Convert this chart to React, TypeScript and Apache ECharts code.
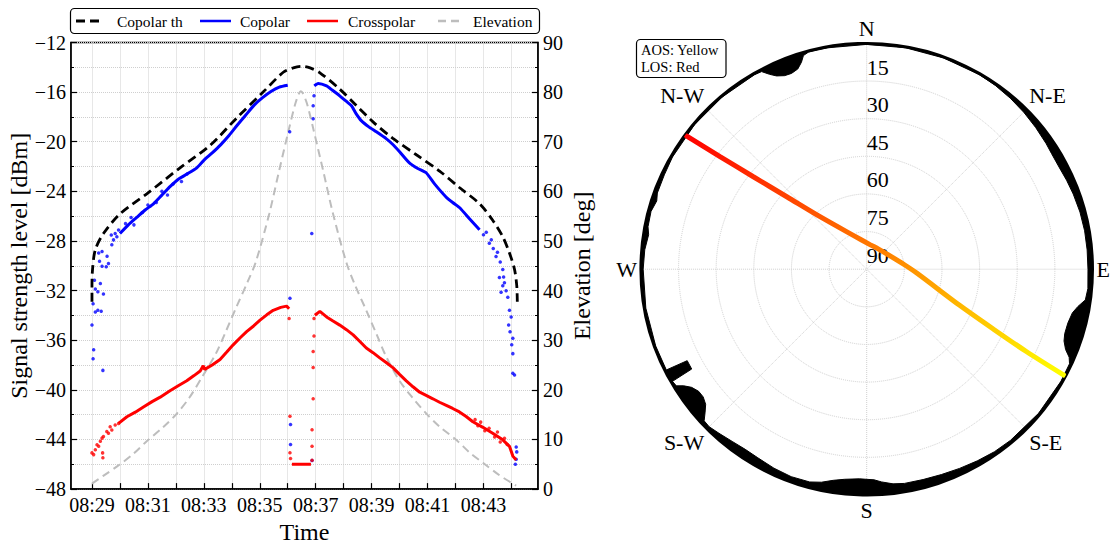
import { useEffect, useRef } from 'react';
import * as echarts from 'echarts';

const FONT = '"Liberation Serif", "DejaVu Serif", serif';

// ---- Left panel: signal levels versus time (minutes after 08:00) ----
const timeLabelMinutes = [29, 31, 33, 35, 37, 39, 41, 43];

const thTime = [29.0, 29.0, 29.02, 29.12, 29.41, 30.01, 30.96, 32.15, 33.22, 34.17, 35.12, 35.84, 36.2, 36.5, 36.8, 37.15, 37.86, 38.46, 39.05, 39.76, 40.6, 41.43, 42.14, 42.86, 43.33, 43.69, 43.93, 44.11, 44.19, 44.21];
const thLevel = [-32.9, -31.6, -30.3, -28.7, -27.4, -25.8, -24.2, -22.1, -20.3, -18.1, -16.0, -14.4, -14.05, -13.92, -14.05, -14.44, -15.76, -17.09, -18.4, -19.73, -21.05, -22.36, -23.69, -25.0, -26.33, -27.65, -28.97, -30.29, -31.6, -32.9];

const elTime = [29.0, 29.39, 29.98, 30.46, 30.93, 31.53, 32.0, 32.48, 32.96, 33.43, 33.79, 34.15, 34.56, 34.86, 35.34, 35.69, 36.05, 36.29, 36.47, 36.67, 36.91, 37.27, 37.62, 38.1, 38.4, 38.81, 39.17, 39.53, 40.0, 40.48, 40.96, 41.43, 42.03, 42.5, 42.98, 43.57, 44.17];
const elDeg = [1.1, 2.6, 4.9, 7.0, 9.5, 12.4, 15.0, 18.4, 22.8, 27.3, 31.8, 36.5, 41.7, 45.8, 55.5, 64.1, 72.7, 78.0, 80.2, 78.0, 72.7, 64.1, 55.5, 45.6, 41.2, 36.0, 31.3, 26.6, 21.8, 18.3, 15.2, 12.6, 9.9, 7.4, 5.3, 2.8, 0.7];

// Copolar: dense parts of the trace (rising and setting halves)
const copRiseTime = [30.0, 30.3, 30.6, 30.9, 31.2, 31.5, 31.8, 32.1, 32.4, 32.75, 33.0, 33.3, 33.6, 33.9, 34.2, 34.5, 34.8, 35.1, 35.4, 35.7, 36.0];
const copRiseLevel = [-27.4, -26.7, -26.1, -25.5, -25.0, -24.3, -23.6, -23.0, -22.6, -22.1, -21.5, -20.9, -20.25, -19.5, -18.65, -17.85, -17.05, -16.45, -15.95, -15.6, -15.45];
const copSetTime = [36.95, 37.09, 37.39, 37.6, 37.86, 38.1, 38.28, 38.45, 38.63, 38.9, 39.17, 39.52, 39.75, 40.0, 40.35, 40.65, 40.95, 41.25, 41.66, 41.9, 42.14, 42.5, 42.86];
const copSetLevel = [-15.5, -15.3, -15.5, -15.85, -16.3, -16.75, -17.1, -17.75, -18.3, -18.8, -19.2, -19.75, -20.2, -20.8, -21.7, -22.15, -22.5, -23.4, -24.45, -24.9, -25.3, -26.2, -27.1];
// Copolar: scattered samples at low elevation and around the zenith gap
const copDotTime = [29.0, 29.06, 29.04, 29.39, 29.04, 29.12, 29.21, 29.33, 29.12, 29.21, 29.41, 29.3, 29.09, 29.36, 29.51, 29.59, 29.54, 29.27, 29.24, 29.36, 29.71, 29.77, 29.89, 29.95, 29.69, 29.83,
  30.2, 30.4, 30.5, 30.8, 31.0, 31.3, 31.5, 31.7, 31.9, 32.2, 32.4,
  36.08, 36.1, 36.1, 36.07, 36.86, 36.91, 36.91, 36.94, 36.87,
  43.0, 43.1, 43.21, 43.28, 43.35, 43.45, 43.5, 43.6, 43.69, 43.75, 43.72, 43.57, 43.69, 43.63, 43.81, 43.87, 43.93, 43.9, 43.99, 43.95, 44.05, 44.01, 44.05, 44.05, 44.11, 44.17, 44.19, 44.14, 44.17];
const copDotLevel = [-34.78, -36.76, -37.5, -38.43, -33.06, -33.73, -33.59, -33.67, -31.87, -32.09, -32.27, -31.43, -31.16, -30.03, -30.08, -29.81, -29.23, -29.63, -28.97, -28.84, -28.31, -27.91, -27.65, -27.12, -27.52, -27.39,
  -26.6, -26.1, -26.7, -25.7, -25.1, -24.9, -24.0, -24.3, -23.4, -23.2, -22.6,
  -32.62, -42.8, -44.4, -19.2, -27.4, -18.14, -17.09, -16.3, -45.7,
  -27.5, -27.3, -28.19, -27.9, -28.6, -29.25, -28.9, -29.7, -30.3, -31.36, -30.9, -30.95, -31.61, -32.14, -32.01, -32.54, -33.59, -34.78, -34.12, -35.31, -35.84, -36.37, -37.08, -38.66, -38.8, -44.61, -45.0, -46.0, -45.6];

// Crosspolar: dense parts of the trace
const xpRiseTime = [29.95, 30.25, 30.55, 30.84, 31.15, 31.44, 31.79, 32.1, 32.39, 32.65, 32.87, 32.98, 33.03, 33.3, 33.58, 33.82, 34.05, 34.3, 34.53, 34.78, 35.01, 35.25, 35.48, 35.75, 35.96, 36.05];
const xpRiseLevel = [-42.7, -42.17, -41.8, -41.38, -40.95, -40.59, -40.07, -39.65, -39.27, -38.85, -38.48, -38.05, -38.35, -38.0, -37.55, -36.95, -36.37, -35.8, -35.31, -34.85, -34.38, -33.95, -33.59, -33.35, -33.25, -33.46];
const xpFloorTime = [36.15, 36.83];
const xpFloorLevel = [-46.0, -46.0];
const xpSetTime = [36.97, 37.15, 37.39, 37.62, 37.86, 38.1, 38.34, 38.58, 38.81, 39.05, 39.29, 39.52, 39.76, 40.0, 40.24, 40.48, 40.72, 40.95, 41.19, 41.43, 41.67, 41.9, 42.14, 42.38, 42.62, 42.98, 43.33, 43.69, 43.93, 44.05, 44.17];
const xpSetLevel = [-33.99, -33.67, -34.12, -34.45, -34.78, -35.15, -35.57, -36.1, -36.63, -37.0, -37.42, -37.8, -38.21, -38.75, -39.27, -39.75, -40.19, -40.45, -40.72, -41.0, -41.25, -41.5, -41.78, -42.15, -42.57, -43.02, -43.5, -44.03, -44.55, -45.34, -45.66];
// Crosspolar: scattered samples
const xpDotTime = [29.0, 29.06, 29.12, 29.18, 29.24, 29.3, 29.36, 29.38, 29.39, 29.41, 29.53, 29.59, 29.65, 29.71, 29.83, 29.95,
  36.05, 36.08, 36.08, 36.1, 36.87, 36.87, 36.87, 36.91, 36.91, 36.91, 36.94, 36.94,
  42.7, 42.8, 42.9, 43.05, 43.2, 43.4, 43.5, 43.6, 43.75, 43.85];
const xpDotLevel = [-45.08, -45.22, -44.82, -44.42, -44.55, -44.15, -43.89, -45.08, -45.48, -43.76, -43.36, -43.5, -42.97, -43.24, -42.84, -42.71,
  -34.25, -42.12, -45.07, -45.54, -45.68, -44.54, -43.22, -40.72, -38.2, -36.9, -35.66, -34.25,
  -42.4, -42.9, -42.6, -43.3, -43.1, -43.8, -43.4, -44.2, -43.9, -44.4];

// ---- Right panel: sky plot ----
const compassLabels = ['N', 'N-E', 'E', 'S-E', 'S', 'S-W', 'W', 'N-W'];
const elevationRings = [15, 30, 45, 60, 75, 90];

// Pass ground track (azimuth deg, elevation deg), from LOS back to AOS
const trackAz = [306.5, 307.5, 309.2, 312.2, 318.35, 338.3, 7.6, 30.5, 53.2, 82.8, 94.35, 111.3, 115.3, 117.3, 118.25];
const trackEl = [0.6, 16.3, 31.7, 47.0, 62.0, 75.5, 80.1, 80.7, 79.9, 75.0, 70.0, 50.1, 34.2, 18.25, 0.8];

// Horizon mask (azimuth deg, obstruction elevation deg)
const maskAz = [0, 10, 20, 30, 35, 40, 45, 50, 55, 58, 62, 66, 70, 75, 80, 85, 90, 95, 98, 100, 102, 105, 108, 110, 112, 113.5, 115, 120, 130, 140, 145, 150, 155, 160, 165, 170, 173, 176, 178, 182, 186, 189, 192, 195, 200, 205, 210, 214, 218, 222, 225, 227, 228.5, 230, 232, 234, 236, 237.5, 238.5, 240, 240.3, 243, 243.3, 250, 260, 270, 275, 279, 281, 285, 288, 290, 295, 300, 310, 320, 330, 332, 333.5, 335, 337, 339, 341, 342.5, 343.5, 345, 350, 360];
const maskEl = [0.4, 0.4, 0.4, 0.4, 0.6, 1.0, 1.5, 2.1, 2.7, 3.1, 3.2, 2.8, 2.4, 2.0, 1.8, 1.8, 1.8, 1.5, 2.0, 4.5, 6.2, 7.0, 7.0, 6.3, 4.5, 2.0, 0.8, 0.6, 0.6, 0.9, 1.2, 1.8, 2.4, 2.9, 3.2, 3.3, 3.8, 5.0, 6.0, 6.4, 5.8, 4.8, 3.2, 2.2, 2.0, 2.5, 3.2, 3.4, 2.9, 2.0, 1.2, 1.4, 4.0, 6.2, 7.3, 7.2, 5.8, 3.5, 1.0, 0.6, 9.7, 9.7, 0.6, 0.5, 0.6, 0.9, 1.2, 2.0, 1.2, 1.0, 2.0, 1.2, 1.0, 0.6, 0.4, 0.4, 0.5, 0.8, 3.2, 5.0, 6.2, 6.4, 5.6, 3.5, 1.2, 0.4, 0.4, 0.4];

const zip = (a: number[], b: number[]) => a.map((v, i) => [v, b[i]]);

const GRID = '#cfcfcf';

function fmtTime(v: number) {
  const m = Math.round(v);
  if (Math.abs(v - m) > 1e-6 || !timeLabelMinutes.includes(m)) return '';
  return '08:' + String(m).padStart(2, '0');
}

function buildOption(): echarts.EChartsOption {
  const axisText = { fontFamily: FONT, fontSize: 20, color: '#000' };
  const tick = { show: true, inside: true, length: 6, lineStyle: { color: '#000', width: 1.2 } };
  const minorTick = { show: true, splitNumber: 2, length: 3, lineStyle: { color: '#000', width: 1 } };
  const dotted = { show: true, lineStyle: { color: GRID, type: 'dotted' as const, width: 1 } };

  return {
    animation: false,
    backgroundColor: '#fff',
    grid: {
      left: 71, top: 42.5, width: 467, height: 454,
      show: true, borderColor: '#000', borderWidth: 1.5, backgroundColor: 'transparent',
    },
    xAxis: {
      type: 'value', min: 28.25, max: 44.95, minInterval: 1, maxInterval: 1,
      name: 'Time', nameLocation: 'middle', nameGap: 28,
      nameTextStyle: { fontFamily: FONT, fontSize: 24, color: '#000' },
      axisLine: { show: true, onZero: false, lineStyle: { color: '#000', width: 1.5 } },
      axisTick: tick,
      axisLabel: { ...axisText, margin: 6, formatter: fmtTime, showMinLabel: false, showMaxLabel: false },
      splitLine: dotted,
    },
    yAxis: [
      {
        type: 'value', min: -48, max: -12, interval: 4, position: 'left',
        name: 'Signal strength level [dBm]', nameLocation: 'middle', nameGap: 40, nameRotate: 90,
        nameTextStyle: { fontFamily: FONT, fontSize: 24, color: '#000' },
        axisLine: { show: true, onZero: false, lineStyle: { color: '#000', width: 1.5 } },
        axisTick: tick, minorTick,
        axisLabel: { ...axisText, margin: 5, formatter: (v: number) => (v < 0 ? '\u2212' + Math.abs(v) : String(v)) },
        splitLine: dotted, minorSplitLine: dotted,
      },
      {
        type: 'value', min: 0, max: 90, interval: 10, position: 'right',
        name: 'Elevation [deg]', nameLocation: 'middle', nameGap: 32, nameRotate: 90,
        nameTextStyle: { fontFamily: FONT, fontSize: 24, color: '#000' },
        axisLine: { show: true, onZero: false, lineStyle: { color: '#000', width: 1.5 } },
        axisTick: tick, minorTick,
        axisLabel: { ...axisText, margin: 5 },
        splitLine: { show: false },
      },
    ],
    polar: { center: [866.7, 269.2], radius: 225.8 },
    angleAxis: {
      type: 'value', min: 0, max: 360, interval: 45, startAngle: 90, clockwise: true,
      axisLine: { show: true, lineStyle: { color: '#000', width: 3 } },
      axisTick: { show: false },
      axisLabel: {
        fontFamily: FONT, fontSize: 22, color: '#000', margin: 4,
        formatter: (v: number) => (v >= 360 ? '' : compassLabels[Math.round(v / 45)] ?? ''),
      },
      splitLine: { show: true, lineStyle: { color: GRID, type: 'dotted', width: 1 } },
    },
    radiusAxis: {
      type: 'value', min: 0, max: 90, interval: 15, inverse: true,
      axisLine: { show: false }, axisTick: { show: false },
      axisLabel: {
        fontFamily: FONT, fontSize: 22, color: '#000', margin: 0, align: 'left', verticalAlign: 'bottom',
        padding: [0, 0, 3, 0],
        formatter: (v: number) => (elevationRings.includes(v) ? String(v) : ''),
      },
      splitLine: { show: true, lineStyle: { color: GRID, type: 'dotted', width: 1 } },
    },
    graphic: [
      { type: 'rect', shape: { x: 70.5, y: 8.5, width: 469, height: 25, r: 4 }, style: { fill: '#fff', stroke: '#000', lineWidth: 1.2 }, z: 100 },
      { type: 'line', shape: { x1: 76, y1: 21, x2: 104, y2: 21 }, style: { stroke: '#000', lineWidth: 2.8, lineDash: [9, 5] }, z: 101 },
      { type: 'text', x: 117, y: 21, style: { text: 'Copolar th', fontFamily: FONT, fontSize: 15.5, fill: '#000', verticalAlign: 'middle' }, z: 101 },
      { type: 'line', shape: { x1: 200, y1: 21, x2: 231, y2: 21 }, style: { stroke: '#0000ff', lineWidth: 2.5 }, z: 101 },
      { type: 'text', x: 240, y: 21, style: { text: 'Copolar', fontFamily: FONT, fontSize: 15.5, fill: '#000', verticalAlign: 'middle' }, z: 101 },
      { type: 'line', shape: { x1: 307, y1: 21, x2: 338, y2: 21 }, style: { stroke: '#ff0000', lineWidth: 2.5 }, z: 101 },
      { type: 'text', x: 348, y: 21, style: { text: 'Crosspolar', fontFamily: FONT, fontSize: 15.5, fill: '#000', verticalAlign: 'middle' }, z: 101 },
      { type: 'line', shape: { x1: 438, y1: 21, x2: 464, y2: 21 }, style: { stroke: '#bdbdbd', lineWidth: 2.5, lineDash: [8, 5] }, z: 101 },
      { type: 'text', x: 473, y: 21, style: { text: 'Elevation', fontFamily: FONT, fontSize: 15.5, fill: '#000', verticalAlign: 'middle' }, z: 101 },
      { type: 'rect', shape: { x: 636.5, y: 39.5, width: 89.5, height: 38, r: 4 }, style: { fill: '#fff', stroke: '#000', lineWidth: 1.2 }, z: 100 },
      { type: 'text', x: 641, y: 58.5, style: { text: 'AOS: Yellow\nLOS: Red', fontFamily: FONT, fontSize: 14.5, lineHeight: 17, fill: '#000', verticalAlign: 'middle' }, z: 101 },
    ],
    series: [
      {
        name: 'Elevation', type: 'line', xAxisIndex: 0, yAxisIndex: 1, data: zip(elTime, elDeg),
        showSymbol: false, symbol: 'none', smooth: 0.3,
        lineStyle: { color: '#bdbdbd', width: 2, type: [8, 5] }, z: 2,
      },
      {
        name: 'Copolar', type: 'line', yAxisIndex: 0, data: zip(copRiseTime, copRiseLevel), symbol: 'none', smooth: 0.2,
        lineStyle: { color: '#0000ff', width: 3 }, z: 3,
      },
      {
        name: 'Copolar', type: 'line', yAxisIndex: 0, data: zip(copSetTime, copSetLevel), symbol: 'none', smooth: 0.2,
        lineStyle: { color: '#0000ff', width: 3 }, z: 3,
      },
      {
        name: 'Copolar', type: 'scatter', yAxisIndex: 0, data: zip(copDotTime, copDotLevel), symbolSize: 3.5,
        itemStyle: { color: '#0000ff' }, z: 3,
      },
      {
        name: 'Crosspolar', type: 'line', yAxisIndex: 0, data: zip(xpRiseTime, xpRiseLevel), symbol: 'none',
        lineStyle: { color: '#ff0000', width: 3 }, z: 4,
      },
      {
        name: 'Crosspolar', type: 'line', yAxisIndex: 0, data: zip(xpFloorTime, xpFloorLevel), symbol: 'none',
        lineStyle: { color: '#ff0000', width: 3 }, z: 4,
      },
      {
        name: 'Crosspolar', type: 'line', yAxisIndex: 0, data: zip(xpSetTime, xpSetLevel), symbol: 'none',
        lineStyle: { color: '#ff0000', width: 3 }, z: 4,
      },
      {
        name: 'Crosspolar', type: 'scatter', yAxisIndex: 0, data: zip(xpDotTime, xpDotLevel), symbolSize: 3.5,
        itemStyle: { color: '#ff0000' }, z: 4,
      },
      {
        name: 'Copolar th', type: 'line', yAxisIndex: 0, data: zip(thTime, thLevel), symbol: 'none', smooth: 0.3,
        lineStyle: { color: '#000', width: 2.8, type: [9, 5] }, z: 5,
      },
      {
        name: 'Horizon mask', type: 'line', coordinateSystem: 'polar', data: zip(maskEl, maskAz), symbol: 'none',
        lineStyle: { color: '#000', width: 1 }, areaStyle: { color: '#000', opacity: 1 }, z: 3,
      },
      {
        name: 'Track', type: 'line', coordinateSystem: 'polar', data: zip(trackEl, trackAz), symbol: 'none', smooth: 0.3,
        lineStyle: {
          width: 5, cap: 'round',
          color: new echarts.graphic.LinearGradient(0, 0, 1, 1, [
            { offset: 0, color: '#ff0000' },
            { offset: 0.5, color: '#ff8000' },
            { offset: 1, color: '#ffff00' },
          ]),
        },
        z: 4,
      },
    ],
  } as echarts.EChartsOption;
}

export default function App() {
  const ref = useRef<HTMLDivElement>(null);
  useEffect(() => {
    if (!ref.current) return;
    const chart = echarts.init(ref.current, undefined, { renderer: 'svg' });
    chart.setOption(buildOption());
    return () => chart.dispose();
  }, []);
  return <div ref={ref} style={{ position: 'fixed', left: 0, top: 0, width: 1117, height: 549, background: '#fff' }} />;
}
